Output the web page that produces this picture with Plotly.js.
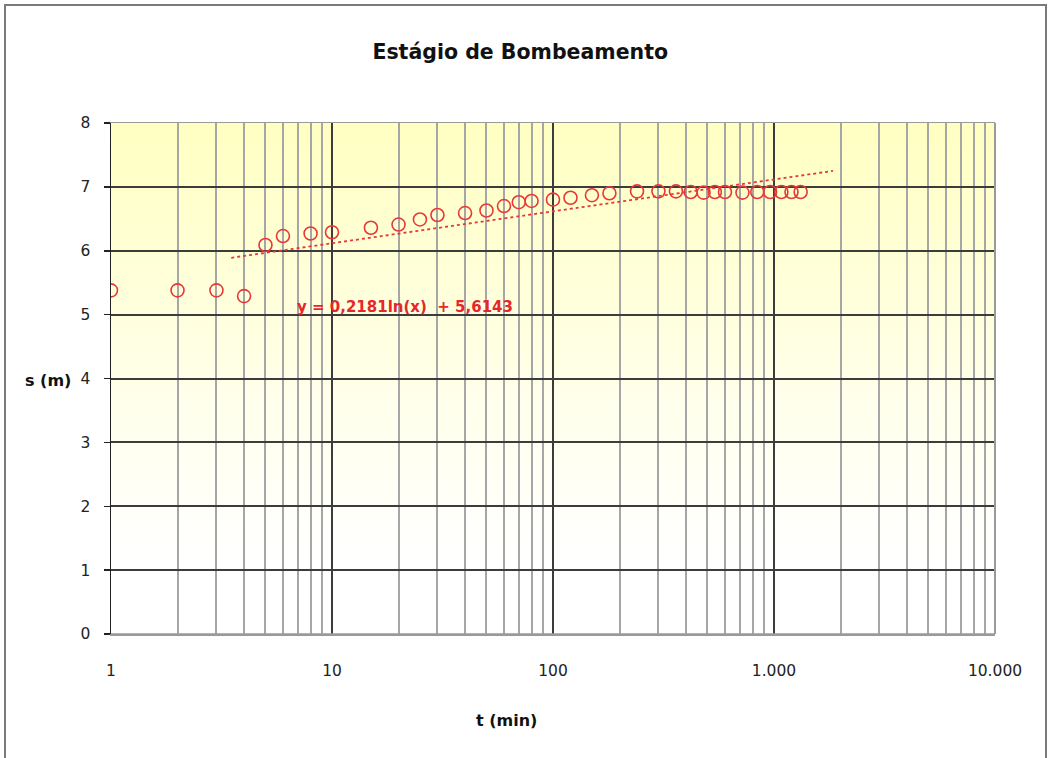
<!DOCTYPE html>
<html>
<head>
<meta charset="utf-8">
<script src="https://cdn.plot.ly/plotly-3.0.1.min.js"></script>
<style>
  html, body { margin: 0; padding: 0; background: #ffffff; }
  #wrap { position: relative; width: 1051px; height: 758px; }
  #chart { width: 1051px; height: 758px; }
  #frame { position: absolute; left: 4px; top: 4px; width: 1043px; height: 760px;
           border: 2px solid #7a7a7a; box-sizing: border-box; pointer-events: none; }
</style>
</head>
<body>
<div id="wrap">
  <div id="chart"></div>
  <div id="frame"></div>
</div>
<script>
// Data
const timeMin = [1, 2, 3, 4, 5, 6, 8, 10, 15, 20, 25, 30, 40, 50, 60, 70, 80, 100, 120, 150, 180,
                 240, 300, 360, 420, 480, 540, 600, 720, 840, 960, 1080, 1200, 1320];
const drawdown = [5.38, 5.38, 5.38, 5.29, 6.09, 6.23, 6.27, 6.29, 6.36, 6.41, 6.49, 6.56, 6.59, 6.63,
                  6.70, 6.76, 6.78, 6.80, 6.83, 6.87, 6.90, 6.93, 6.93, 6.93, 6.92, 6.91, 6.92, 6.92,
                  6.91, 6.92, 6.92, 6.92, 6.92, 6.92];
// Trendline endpoints (y = 0,2181 ln(x) + 5,6143) as drawn in the reference
const trendX = [3.5, 1850];
const trendY = [5.89, 7.25];

const xDecadeVals = [1, 10, 100, 1000, 10000];
const xDecadeText = ['1', '10', '100', '1.000', '10.000'];
const yTickVals = [0, 1, 2, 3, 4, 5, 6, 7, 8];

const chartTitle = 'Estágio de Bombeamento';
const xLabel = 't (min)';
const yLabel = 's (m)';
const equationText = 'y = 0,2181ln(x)  + 5,6143';

// minor grid positions (2..9 within each decade) with empty labels
const xGridVals = [];
const xGridText = [];
xDecadeVals.forEach(function (d, i) {
  xGridVals.push(d); xGridText.push(xDecadeText[i]);
  if (d < 10000) {
    for (let k = 2; k <= 9; k++) { xGridVals.push(d * k); xGridText.push(''); }
  }
});

const RED = '#e8373a';
const FONT = 'DejaVu Sans, Arial, sans-serif';

const gradSvg = '<svg xmlns="http://www.w3.org/2000/svg" width="100" height="100" preserveAspectRatio="none">' +
  '<defs><linearGradient id="g" x1="0" y1="0" x2="0" y2="1">' +
  '<stop offset="0" stop-color="#ffffc2"/><stop offset="0.55" stop-color="#ffffec"/>' +
  '<stop offset="0.85" stop-color="#ffffff"/><stop offset="1" stop-color="#ffffff"/></linearGradient></defs>' +
  '<rect x="0" y="0" width="100" height="100" fill="url(#g)"/></svg>';

const traces = [
  {
    x: timeMin, y: drawdown, type: 'scatter', mode: 'markers',
    marker: { symbol: 'circle-open', size: 13, color: RED, line: { width: 1.6, color: RED } },
    showlegend: false, hoverinfo: 'x+y'
  },
  {
    x: trendX, y: trendY, type: 'scatter', mode: 'lines', xaxis: 'x2', yaxis: 'y',
    line: { color: RED, width: 1.8, dash: 'dot' },
    showlegend: false, hoverinfo: 'skip'
  }
];

const layout = {
  width: 1051, height: 758,
  margin: { l: 111, r: 56, t: 123, b: 124 },
  paper_bgcolor: '#ffffff',
  plot_bgcolor: 'rgba(0,0,0,0)',
  showlegend: false,
  font: { family: FONT, color: '#1a1a1a', size: 15 },
  title: {
    text: '<b>' + chartTitle + '</b>',
    font: { family: FONT, size: 20.5, color: '#111111' },
    xref: 'container', yref: 'container',
    x: 0.495, xanchor: 'center', y: 1 - 52 / 758, yanchor: 'middle'
  },
  xaxis: {
    type: 'log', range: [0, 4],
    tickmode: 'array', tickvals: xGridVals, ticktext: xGridText,
    ticks: '', ticklabelstandoff: 22,
    tickfont: { family: FONT, size: 15.5, color: '#222222' },
    showgrid: true, gridcolor: '#a6a6a6', gridwidth: 2,
    showline: true, linecolor: '#9a9a9a', linewidth: 1.5, mirror: true,
    zeroline: false, fixedrange: true
  },
  xaxis2: {
    type: 'log', range: [0, 4], overlaying: 'x', anchor: 'y', side: 'bottom',
    tickmode: 'array', tickvals: xDecadeVals, showticklabels: false, ticks: '',
    showgrid: true, gridcolor: '#3c3c3c', gridwidth: 2,
    showline: false, zeroline: false, fixedrange: true
  },
  yaxis: {
    range: [0, 8], tickvals: yTickVals,
    ticks: 'outside', ticklen: 6, tickcolor: '#222222', tickwidth: 1.5,
    ticklabelstandoff: 10,
    tickfont: { family: FONT, size: 15.5, color: '#222222' },
    showgrid: true, gridcolor: '#3c3c3c', gridwidth: 2,
    showline: true, linecolor: '#222222', linewidth: 1.5,
    zeroline: false, fixedrange: true
  },
  images: [{
    source: 'data:image/svg+xml;charset=utf-8,' + encodeURIComponent(gradSvg),
    xref: 'paper', yref: 'paper', x: 0, y: 1, sizex: 1, sizey: 1,
    xanchor: 'left', yanchor: 'top', sizing: 'stretch', layer: 'below'
  }],
  shapes: [
    { type: 'line', xref: 'paper', yref: 'paper', x0: 1, x1: 1, y0: 0, y1: 1,
      line: { color: '#9a9a9a', width: 2 } },
    { type: 'line', xref: 'paper', yref: 'paper', x0: 0, x1: 1, y0: 0, y1: 0,
      line: { color: '#9a9a9a', width: 1.5 } }
  ],
  annotations: [
    { text: '<b>' + equationText + '</b>', xref: 'paper', yref: 'paper',
      x: (405 - 111) / 884, y: (634 - 307) / 511, xanchor: 'center', yanchor: 'middle',
      showarrow: false, font: { family: FONT, size: 15, color: '#e5262b' } },
    { text: '<b>' + yLabel + '</b>', xref: 'paper', yref: 'paper',
      x: (73 - 111) / 884, y: (634 - 380) / 511, xanchor: 'right', yanchor: 'middle',
      showarrow: false, font: { family: FONT, size: 16, color: '#111111' } },
    { text: '<b>' + xLabel + '</b>', xref: 'paper', yref: 'paper',
      x: (506 - 111) / 884, y: -(720 - 634) / 511, xanchor: 'center', yanchor: 'middle',
      showarrow: false, font: { family: FONT, size: 16, color: '#111111' } }
  ]
};

Plotly.newPlot('chart', traces, layout, { displayModeBar: false, staticPlot: true });
</script>
</body>
</html>
